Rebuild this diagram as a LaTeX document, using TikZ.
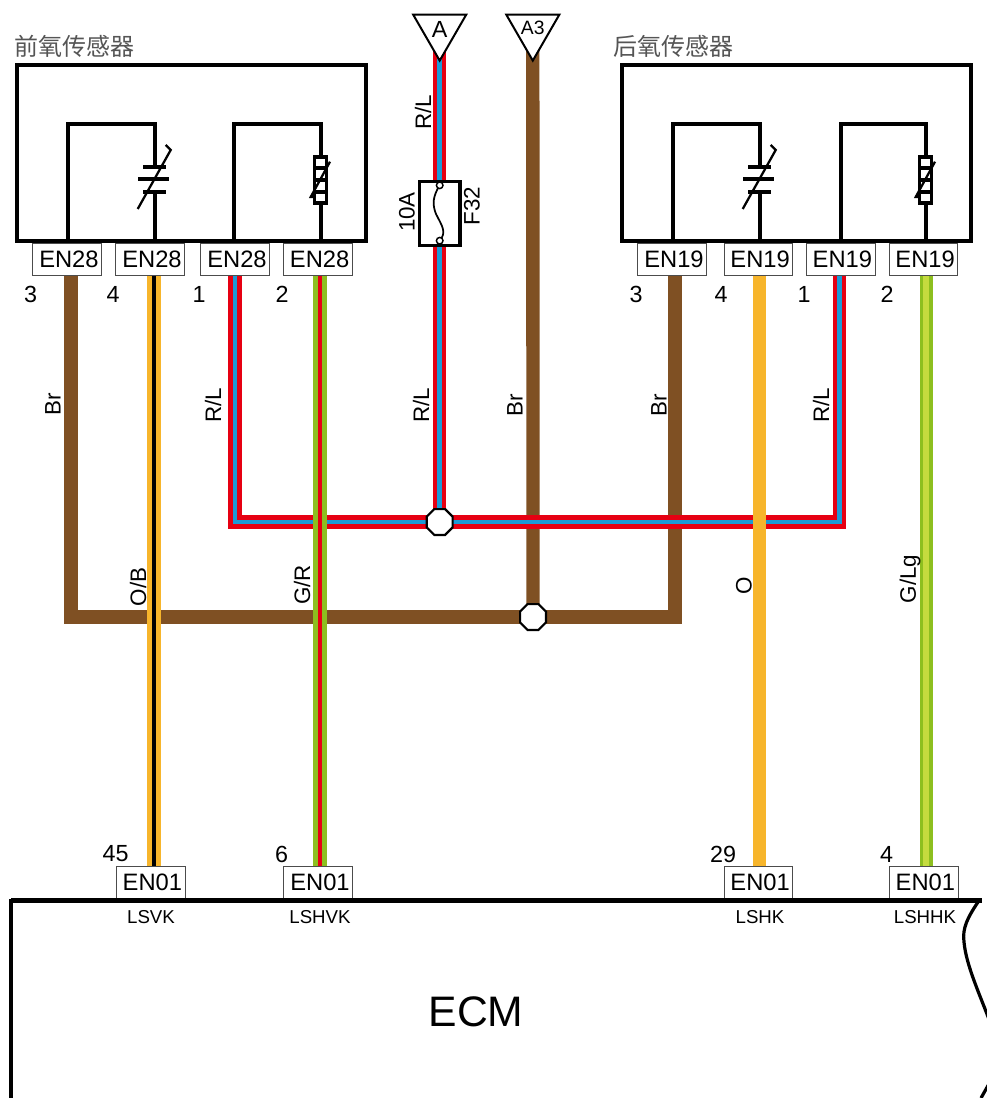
\documentclass[tikz,border=0pt]{standalone}
\usepackage{fontspec}
\setmainfont{Liberation Sans}
\newfontfamily\cjk{Noto Sans CJK SC}
\usetikzlibrary{shapes.geometric,backgrounds}
\definecolor{wred}{HTML}{E60012}
\definecolor{wblue}{HTML}{1C9AD6}
\definecolor{wbrown}{HTML}{7F5023}
\definecolor{worange}{HTML}{F7B52B}
\definecolor{wgreen}{HTML}{8DBF1F}
\definecolor{wlight}{HTML}{C5DB3E}
\definecolor{txtgray}{HTML}{555555}
\tikzset{
  x=0.75pt,y=-0.75pt,
  plainwire/.style={line width=10pt},
  twotone/.style n args={3}{draw=#1,double=#2,double distance=#3,line width=10pt/2-#3/2},
  redblue/.style={twotone={wred}{wblue}{3.4pt}},
  orangeblack/.style={twotone={worange}{black}{2.4pt}},
  greenred/.style={twotone={wgreen}{wred}{3.6pt}},
  greenlight/.style={twotone={wgreen}{wlight}{4.4pt}},
  conn/.style={draw=black!70,line width=0.75pt,fill=white,minimum width=51.5pt,minimum height=24.5pt,inner sep=0pt,outer sep=0pt,font=\fontsize{17.8}{20}\selectfont,execute at begin node={\hspace*{2.5pt}}},
  pinlabel/.style={inner sep=0pt,font=\fontsize{17.5}{20}\selectfont},
  wirelabel/.style={inner sep=0pt,rotate=90,font=\fontsize{16.8}{18}\selectfont},
  sublabel/.style={inner sep=0pt,font=\fontsize{14}{16}\selectfont,text=black},
  sensorbox/.style={draw=black,line width=3.2pt,minimum width=261.75pt,minimum height=132pt,inner sep=0pt,outer sep=0pt},
  sensorline/.style={draw=black,line width=3pt},
  thinline/.style={draw=black,line width=1.7pt},
  junction/.style={regular polygon,regular polygon sides=8,draw=black,line width=1.6pt,fill=white,minimum size=21pt,inner sep=0pt,outer sep=0pt},
  flag/.style={regular polygon,regular polygon sides=3,shape border rotate=180,draw=black,line width=1.5pt,fill=white,minimum size=45.9pt,inner sep=0pt,outer sep=0pt},
  fusebox/.style={draw=black,line width=2.5pt,fill=white,minimum width=30.2pt,minimum height=48.3pt,inner sep=0pt,outer sep=0pt},
  titlelabel/.style={inner sep=0pt,anchor=west,text=txtgray,font=\cjk\fontsize{18}{20}\selectfont},
}
\begin{document}
\begin{tikzpicture}
\clip (0,0) rectangle (987,1098);
% sensor housings
\node[sensorbox] (frontbox) at (191.5,153) {};
\node[sensorbox] (rearbox) at (796.75,153) {};
\node[titlelabel] (fronttitle) at (14,46) {前氧传感器};
\node[titlelabel] (reartitle) at (613,46) {后氧传感器};
% sensor internals
\foreach \dx/\lx in {0/234,605/235.7}{
\begin{scope}[shift={(\dx,0)}]
  \draw[sensorline] (68,241) -- (68,124) -- (154.7,124) -- (154.7,166.7);
  \draw[sensorline] (154.7,192.3) -- (154.7,241);
  \draw[sensorline] (143,166.7) -- (166,166.7);
  \draw[sensorline] (138,179.3) -- (169,179.3);
  \draw[sensorline] (143,192.3) -- (166,192.3);
  \draw[thinline] (137.7,209) -- (170.7,150) -- (165.7,145);
  \draw[sensorline] (\lx,241) -- (\lx,124) -- (320.7,124) -- (320.7,241);
  \draw[draw=black,line width=2.3pt,fill=white] (314.5,157) rectangle (326.8,203);
  \draw[draw=black,line width=2.3pt] (314.5,168) -- (326.8,168) (314.5,180) -- (326.8,180) (314.5,192) -- (326.8,192);
  \draw[thinline] (315,197) -- (310.7,197) -- (330,161.7);
\end{scope}}
% connectors
\node[conn] (a3) at (67.3,259.5) {EN28};
\node[conn] (a4) at (150.3,259.5) {EN28};
\node[conn] (a1) at (235.3,259.5) {EN28};
\node[conn] (a2) at (318,259.5) {EN28};
\node[conn] (b3) at (672.3,259.5) {EN19};
\node[conn] (b4) at (758.5,259.5) {EN19};
\node[conn] (b1) at (840.7,259.5) {EN19};
\node[conn] (b2) at (923.5,259.5) {EN19};
\node[conn] (e45) at (150.7,882.5) {EN01};
\node[conn] (e6) at (318.3,882.5) {EN01};
\node[conn] (e29) at (758.5,882.5) {EN01};
\node[conn] (e4) at (923.7,882.5) {EN01};
% pin numbers
\node[pinlabel] (na3) at (30.7,294) {3};
\node[pinlabel] (na4) at (113,294) {4};
\node[pinlabel] (na1) at (199,294) {1};
\node[pinlabel] (na2) at (282,294) {2};
\node[pinlabel] (nb3) at (636,294) {3};
\node[pinlabel] (nb4) at (721,294) {4};
\node[pinlabel] (nb1) at (804,294) {1};
\node[pinlabel] (nb2) at (887,294) {2};
\node[pinlabel] (ne45) at (115.7,854) {45};
\node[pinlabel] (ne6) at (281.7,854) {6};
\node[pinlabel] (ne29) at (723,854) {29};
\node[pinlabel] (ne4) at (886.7,854) {4};
% terminals, fuse, junctions
\node[flag] (fa) at (439.7,30) {};
\node[flag] (fa3) at (532.8,30) {};
\node[inner sep=0pt,font=\fontsize{17.5}{18}\selectfont] (faname) at (439.7,29) {A};
\node[inner sep=0pt,font=\fontsize{14.5}{16}\selectfont] (fa3name) at (532.8,28) {A3};
\node[fusebox] (fuse) at (439.7,213.5) {};
\node[junction] (ja) at (439.7,522) {};
\node[junction] (jb) at (533,617) {};
\draw[draw=black,line width=1.3pt] (439.7,185.3) .. controls (433,196) and (432,204) .. (436,214) .. controls (442,226) and (447,232) .. (439.7,240.7);
\draw[draw=black,line width=1.1pt,fill=white] (439.7,185.3) circle[radius=3.3];
\draw[draw=black,line width=1.1pt,fill=white] (439.7,240.7) circle[radius=3.3];
% wire labels
\node[wirelabel] (l1) at (423,112) {R/L};
\node[wirelabel] (l2) at (407,212) {10A};
\node[wirelabel] (l3) at (472,206) {F32};
\node[wirelabel] (l4) at (421,405) {R/L};
\node[wirelabel] (l5) at (515,405) {Br};
\node[wirelabel] (l6) at (53,404) {Br};
\node[wirelabel] (l7) at (213,405) {R/L};
\node[wirelabel] (l8) at (659,405) {Br};
\node[wirelabel] (l9) at (821,405) {R/L};
\node[wirelabel] (l10) at (138,587) {O/B};
\node[wirelabel] (l11) at (302,585) {G/R};
\node[wirelabel] (l12) at (744,586) {O};
\node[wirelabel] (l13) at (910,579) {G/Lg};
% ECM
\draw[draw=black,line width=3.75pt] (11,900.8) -- (982,900.8);
\draw[draw=black,line width=3pt] (11,899) -- (11,1098);
\draw[draw=black,line width=2.4pt] (978,902) .. controls (968,917) and (962,928) .. (964,942) .. controls (966,965) and (980,995) .. (990,1022);
\draw[draw=black,line width=2.4pt] (990,1082) -- (981,1098);
\node[inner sep=0pt,font=\fontsize{32}{36}\selectfont] (ecm) at (476,1012) {ECM};
\node[sublabel] (s1) at (151,917) {LSVK};
\node[sublabel] (s2) at (320,917) {LSHVK};
\node[sublabel] (s3) at (760,917) {LSHK};
\node[sublabel] (s4) at (925,917) {LSHHK};
% wire anchor points
\coordinate (pa3) at (71,276);
\coordinate (pa4) at (154,276);
\coordinate (pa1) at (235,276);
\coordinate (pa2) at (320,276);
\coordinate (pb3) at (675,276);
\coordinate (pb4) at (759.3,276);
\coordinate (pb1) at (839.7,276);
\coordinate (pb2) at (926.3,276);
\coordinate (qa4) at (154,867);
\coordinate (qa2) at (320,867);
\coordinate (qb4) at (759.3,867);
\coordinate (qb2) at (926.3,867);
% wires
\begin{scope}[on background layer]
  \draw[wbrown,plainwire] (pa3) -- (pa3 |- jb) -- (pb3 |- jb) -- (pb3);
  \draw[wbrown,plainwire] (fa3.center) -- (jb.center);
  \draw[redblue] (pa1) -- (pa1 |- ja) -- (pb1 |- ja) -- (pb1);
  \draw[redblue] (fa.center) -- (fuse.north);
  \draw[redblue] (fuse.south) -- (ja.center);
  \draw[orangeblack] (pa4) -- (qa4);
  \draw[greenred] (pa2) -- (qa2);
  \draw[worange,plainwire] (pb4) -- (qb4);
  \draw[greenlight] (pb2) -- (qb2);
\end{scope}
\end{tikzpicture}
\end{document}
